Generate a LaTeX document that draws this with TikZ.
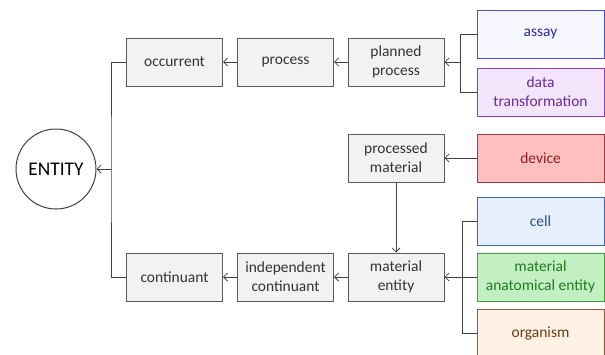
\documentclass[tikz,border=0pt]{standalone}
\usepackage{fontspec}
\setmainfont{Carlito}
\usetikzlibrary{arrows.meta}
\definecolor{linec}{HTML}{404040}
\definecolor{grayfill}{HTML}{F2F2F2}
\definecolor{graydraw}{HTML}{595959}
\definecolor{assayfill}{HTML}{F7F7FF}
\definecolor{assaydraw}{HTML}{4B4BDC}
\definecolor{assaytext}{HTML}{2A2AA8}
\definecolor{dtfill}{HTML}{F3E6FC}
\definecolor{dtdraw}{HTML}{8A3CC8}
\definecolor{dttext}{HTML}{6A2A9A}
\definecolor{devfill}{HTML}{FFBFBF}
\definecolor{devdraw}{HTML}{A03A3A}
\definecolor{devtext}{HTML}{8A1E1E}
\definecolor{cellfill}{HTML}{E6F0FC}
\definecolor{celldraw}{HTML}{3C6AA8}
\definecolor{celltext}{HTML}{2A4E88}
\definecolor{maefill}{HTML}{C2F0C2}
\definecolor{maedraw}{HTML}{3CA03C}
\definecolor{maetext}{HTML}{1E7A1E}
\definecolor{orgfill}{HTML}{FFF1E3}
\definecolor{orgdraw}{HTML}{8A5A3A}
\definecolor{orgtext}{HTML}{6A3A1A}
\tikzset{
  px/.style={x=0.75pt,y=-0.75pt},
  graybox/.style={draw=graydraw,fill=grayfill,line width=0.75pt,minimum width=72pt,minimum height=36pt,align=center,font=\fontsize{11.6}{14}\selectfont,text=black!80,inner sep=1pt},
  colbox/.style={draw=#1draw,fill=#1fill,text=#1text,line width=0.75pt,minimum width=95.25pt,minimum height=36pt,align=center,font=\fontsize{11.6}{14}\selectfont,inner sep=1pt},
  conn/.style={draw=linec,line width=0.75pt},
  arr/.style={conn,-{Straight Barb[length=3pt,width=6pt,line width=0.6pt]}},
}
\begin{document}
\begin{tikzpicture}[px]
\useasboundingbox (0,0) rectangle (605,354);
\node[draw=linec,line width=0.75pt,circle,minimum size=60pt,inner sep=0pt,font=\fontsize{14.5}{16}\selectfont] (entity) at (56,169) {ENTITY};
\node[graybox] (occurrent) at (174.5,62) {occurrent};
\node[graybox] (process) at (285.5,62) {process};
\node[graybox] (planned) at (396,62) {planned\\process};
\node[colbox=assay] (assay) at (540.5,34) {assay};
\node[colbox=dt] (dt) at (540.5,92) {data\\transformation};
\node[graybox] (processed) at (396,158) {processed\\material};
\node[colbox=dev] (device) at (540.5,158) {device};
\node[graybox] (continuant) at (174.5,277) {continuant};
\node[graybox] (indep) at (285.5,277) {independent\\continuant};
\node[graybox] (matent) at (396,277) {material\\entity};
\node[colbox=cell] (cell) at (540.5,221) {cell};
\node[colbox=mae] (mae) at (540.5,277) {material\\anatomical entity};
\node[colbox=org] (organism) at (540.5,333) {organism};
\coordinate (j1) at (111,169);
\coordinate (j2) at (460,62);
\coordinate (j3) at (462,277);
\draw[conn] (occurrent.west) -| (j1) |- (continuant.west);
\draw[arr] (j1) -- (entity.east);
\draw[arr] (process) -- (occurrent);
\draw[arr] (planned) -- (process);
\draw[conn] (assay.west) -| (j2) |- (dt.west);
\draw[arr] (j2) -- (planned.east);
\draw[arr] (device) -- (processed);
\draw[arr] (processed) -- (matent);
\draw[conn] (cell.west) -| (j3) |- (organism.west);
\draw[arr] (mae) -- (matent);
\draw[arr] (matent) -- (indep);
\draw[arr] (indep) -- (continuant);
\end{tikzpicture}
\end{document}
